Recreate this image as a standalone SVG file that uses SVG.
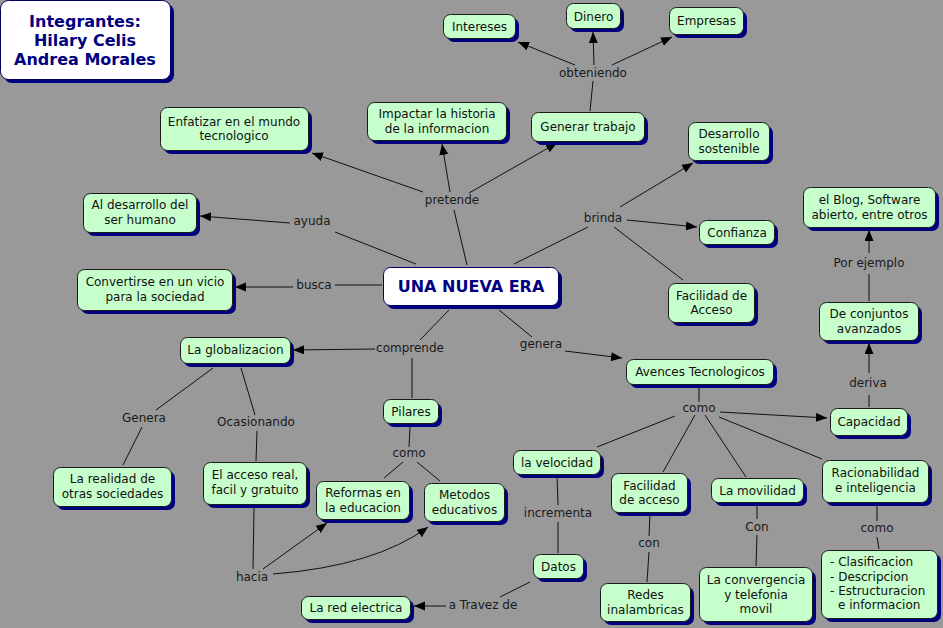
<svg xmlns="http://www.w3.org/2000/svg" width="943" height="628" viewBox="0 0 943 628">
<style>
.bg{fill:#999999}
.sh{fill:#000080}
.nd{fill:#c6ffcb;stroke:#1a1a1a;stroke-width:1}
.mn{fill:#ffffff;stroke:#000066;stroke-width:1}
text{font-family:"DejaVu Sans","Verdana",sans-serif;font-size:12px;fill:#111;text-anchor:middle}
.lk{fill:#1a1a1a}
.tt{font-weight:bold;font-size:16px;fill:#000080}
.lt{text-anchor:start}
#conn line,#conn path{stroke:#111;stroke-width:1;fill:none}
</style>
<defs>
<marker id="a" markerUnits="userSpaceOnUse" markerWidth="12" markerHeight="10" refX="11" refY="4.5" orient="auto">
<path d="M0,0 L11,4.5 L0,9 z" fill="#000"/>
</marker>
</defs>
<rect class="bg" x="0" y="0" width="943" height="628"/>

<g id="conn">
<line x1="467" y1="265" x2="454" y2="210"/>
<line x1="423" y1="192" x2="312" y2="153" marker-end="url(#a)"/>
<line x1="450" y1="192" x2="442" y2="144" marker-end="url(#a)"/>
<line x1="469" y1="193" x2="557" y2="143" marker-end="url(#a)"/>
<line x1="590" y1="111" x2="593" y2="81"/>
<line x1="575" y1="65" x2="518" y2="42" marker-end="url(#a)"/>
<line x1="594" y1="65" x2="593" y2="32" marker-end="url(#a)"/>
<line x1="612" y1="65" x2="672" y2="37" marker-end="url(#a)"/>
<line x1="416" y1="264" x2="335" y2="232"/>
<line x1="290" y1="223" x2="200" y2="216" marker-end="url(#a)"/>
<line x1="382" y1="285" x2="335" y2="285"/>
<line x1="293" y1="287" x2="235" y2="287" marker-end="url(#a)"/>
<line x1="514" y1="264" x2="588" y2="227"/>
<line x1="620" y1="207" x2="693" y2="163" marker-end="url(#a)"/>
<line x1="627" y1="220" x2="697" y2="227" marker-end="url(#a)"/>
<line x1="614" y1="227" x2="683" y2="280"/>
<line x1="449" y1="310" x2="420" y2="340"/>
<line x1="375" y1="349" x2="293" y2="350" marker-end="url(#a)"/>
<line x1="412" y1="358" x2="412" y2="398"/>
<line x1="410" y1="427" x2="409" y2="447"/>
<line x1="403" y1="462" x2="384" y2="478"/>
<line x1="417" y1="462" x2="440" y2="481"/>
<line x1="213" y1="368" x2="156" y2="410"/>
<line x1="142" y1="427" x2="123" y2="465"/>
<line x1="241" y1="368" x2="255" y2="415"/>
<line x1="257" y1="431" x2="256" y2="461"/>
<line x1="254" y1="508" x2="253" y2="569"/>
<line x1="263" y1="569" x2="327" y2="523" marker-end="url(#a)"/>
<path d="M273,574 Q375,566 428,527" marker-end="url(#a)"/>
<line x1="499" y1="310" x2="532" y2="337"/>
<line x1="565" y1="351" x2="622" y2="358" marker-end="url(#a)"/>
<line x1="699" y1="385" x2="699" y2="402"/>
<line x1="720" y1="412" x2="827" y2="418" marker-end="url(#a)"/>
<line x1="675" y1="416" x2="597" y2="447"/>
<line x1="695" y1="415" x2="663" y2="472"/>
<line x1="705" y1="415" x2="746" y2="477"/>
<line x1="719" y1="417" x2="822" y2="459"/>
<line x1="869" y1="407" x2="869" y2="395"/>
<line x1="869" y1="373" x2="869" y2="343" marker-end="url(#a)"/>
<line x1="869" y1="301" x2="869" y2="274"/>
<line x1="869" y1="253" x2="869" y2="230" marker-end="url(#a)"/>
<line x1="650" y1="513" x2="649" y2="536"/>
<line x1="649" y1="552" x2="647" y2="582"/>
<line x1="757" y1="503" x2="757" y2="519"/>
<line x1="757" y1="535" x2="756" y2="566"/>
<line x1="877" y1="503" x2="877" y2="521"/>
<line x1="877" y1="537" x2="879" y2="549"/>
<line x1="557" y1="475" x2="558" y2="505"/>
<line x1="558" y1="522" x2="558" y2="553"/>
<line x1="530" y1="582" x2="500" y2="597"/>
<line x1="446" y1="606" x2="414" y2="606" marker-end="url(#a)"/>
</g>

<g id="title">
<rect class="sh" x="4" y="4" width="170" height="79" rx="8"/>
<rect class="mn" x="0.5" y="0.5" width="170" height="79" rx="8"/>
<text class="tt" x="85" y="27">Integrantes:</text>
<text class="tt" x="85" y="46">Hilary Celis</text>
<text class="tt" x="85" y="65">Andrea Morales</text>
</g>

<g id="main">
<rect class="sh" x="387" y="271" width="175" height="38" rx="7"/>
<rect class="mn" x="383.5" y="267.5" width="175" height="38" rx="7"/>
<text class="tt" x="471" y="292">UNA NUEVA ERA</text>
</g>

<g id="enfatizar">
<rect class="sh" x="164" y="111" width="148" height="43" rx="7"/>
<rect class="nd" x="160.5" y="107.5" width="148" height="43" rx="7"/>
<text x="234" y="125.5">Enfatizar en el mundo</text>
<text x="234" y="140">tecnologico</text>
</g>

<g id="impactar">
<rect class="sh" x="371" y="106" width="139" height="38" rx="7"/>
<rect class="nd" x="367.5" y="102.5" width="139" height="38" rx="7"/>
<text x="437" y="118">Impactar la historia</text>
<text x="437" y="132.5">de la informacion</text>
</g>

<g id="generar">
<rect class="sh" x="535" y="116" width="113" height="29" rx="7"/>
<rect class="nd" x="531.5" y="112.5" width="113" height="29" rx="7"/>
<text x="588" y="130.5">Generar trabajo</text>
</g>

<g id="intereses">
<rect class="sh" x="447" y="18" width="72" height="24" rx="7"/>
<rect class="nd" x="443.5" y="14.5" width="72" height="24" rx="7"/>
<text x="479.5" y="31">Intereses</text>
</g>

<g id="dinero">
<rect class="sh" x="570" y="7" width="54" height="25" rx="7"/>
<rect class="nd" x="566.5" y="3.5" width="54" height="25" rx="7"/>
<text x="593.5" y="20.5">Dinero</text>
</g>

<g id="empresas">
<rect class="sh" x="673" y="11" width="74" height="27" rx="7"/>
<rect class="nd" x="669.5" y="7.5" width="74" height="27" rx="7"/>
<text x="706.5" y="24.5">Empresas</text>
</g>

<g id="sostenible">
<rect class="sh" x="692" y="126" width="81" height="38" rx="7"/>
<rect class="nd" x="688.5" y="122.5" width="81" height="38" rx="7"/>
<text x="729" y="138">Desarrollo</text>
<text x="729" y="152.5">sostenible</text>
</g>

<g id="aldesarrollo">
<rect class="sh" x="87" y="197" width="113" height="39" rx="7"/>
<rect class="nd" x="83.5" y="193.5" width="113" height="39" rx="7"/>
<text x="140" y="209">Al desarrollo del</text>
<text x="140" y="223.5">ser humano</text>
</g>

<g id="convertirse">
<rect class="sh" x="81" y="273" width="155" height="41" rx="7"/>
<rect class="nd" x="77.5" y="269.5" width="155" height="41" rx="7"/>
<text x="155" y="286">Convertirse en un vicio</text>
<text x="155" y="300.5">para la sociedad</text>
</g>

<g id="globalizacion">
<rect class="sh" x="184" y="341" width="110" height="26" rx="7"/>
<rect class="nd" x="180.5" y="337.5" width="110" height="26" rx="7"/>
<text x="235.5" y="354">La globalizacion</text>
</g>

<g id="pilares">
<rect class="sh" x="387" y="403" width="55" height="24" rx="7"/>
<rect class="nd" x="383.5" y="399.5" width="55" height="24" rx="7"/>
<text x="411" y="415.5">Pilares</text>
</g>

<g id="realidad">
<rect class="sh" x="57" y="471" width="118" height="39" rx="7"/>
<rect class="nd" x="53.5" y="467.5" width="118" height="39" rx="7"/>
<text x="112.5" y="483">La realidad de</text>
<text x="112.5" y="497.5">otras sociedades</text>
</g>

<g id="acceso">
<rect class="sh" x="207" y="466" width="103" height="42" rx="7"/>
<rect class="nd" x="203.5" y="462.5" width="103" height="42" rx="7"/>
<text x="255" y="479">El acceso real,</text>
<text x="255" y="493.5">facil y gratuito</text>
</g>

<g id="reformas">
<rect class="sh" x="320" y="485" width="93" height="38" rx="7"/>
<rect class="nd" x="316.5" y="481.5" width="93" height="38" rx="7"/>
<text x="363" y="497">Reformas en</text>
<text x="363" y="511.5">la educacion</text>
</g>

<g id="metodos">
<rect class="sh" x="428" y="487" width="80" height="38" rx="7"/>
<rect class="nd" x="424.5" y="483.5" width="80" height="38" rx="7"/>
<text x="464.5" y="499">Metodos</text>
<text x="464.5" y="513.5">educativos</text>
</g>

<g id="redelectrica">
<rect class="sh" x="305" y="600" width="109" height="23" rx="7"/>
<rect class="nd" x="301.5" y="596.5" width="109" height="23" rx="7"/>
<text x="356" y="612">La red electrica</text>
</g>

<g id="velocidad">
<rect class="sh" x="517" y="454" width="87" height="24" rx="7"/>
<rect class="nd" x="513.5" y="450.5" width="87" height="24" rx="7"/>
<text x="557" y="466.5">la velocidad</text>
</g>

<g id="datos">
<rect class="sh" x="537" y="558" width="50" height="24" rx="7"/>
<rect class="nd" x="533.5" y="554.5" width="50" height="24" rx="7"/>
<text x="558.5" y="570.5">Datos</text>
</g>

<g id="facilidad2">
<rect class="sh" x="615" y="477" width="76" height="39" rx="7"/>
<rect class="nd" x="611.5" y="473.5" width="76" height="39" rx="7"/>
<text x="649.5" y="489.5">Facilidad</text>
<text x="649.5" y="504">de acceso</text>
</g>

<g id="redes">
<rect class="sh" x="604" y="587" width="90" height="38" rx="7"/>
<rect class="nd" x="600.5" y="583.5" width="90" height="38" rx="7"/>
<text x="645.5" y="599">Redes</text>
<text x="645.5" y="613.5">inalambricas</text>
</g>

<g id="movilidad">
<rect class="sh" x="715" y="482" width="92" height="24" rx="7"/>
<rect class="nd" x="711.5" y="478.5" width="92" height="24" rx="7"/>
<text x="757.5" y="494.5">La movilidad</text>
</g>

<g id="convergencia">
<rect class="sh" x="703" y="571" width="113" height="54" rx="7"/>
<rect class="nd" x="699.5" y="567.5" width="113" height="54" rx="7"/>
<text x="756" y="584">La convergencia</text>
<text x="756" y="598.5">y telefonia</text>
<text x="756" y="613">movil</text>
</g>

<g id="racionabilidad">
<rect class="sh" x="826" y="464" width="106" height="42" rx="7"/>
<rect class="nd" x="822.5" y="460.5" width="106" height="42" rx="7"/>
<text x="875.5" y="477">Racionabilidad</text>
<text x="875.5" y="491.5">e inteligencia</text>
</g>

<g id="clasificacion">
<rect class="sh" x="825" y="554" width="116" height="68" rx="7"/>
<rect class="nd" x="821.5" y="550.5" width="116" height="68" rx="7"/>
<text class="lt" x="830" y="566">- Clasificacion</text>
<text class="lt" x="830" y="580.5">- Descripcion</text>
<text class="lt" x="830" y="595">- Estructuracion</text>
<text class="lt" x="838" y="609">e informacion</text>
</g>

<g id="capacidad">
<rect class="sh" x="834" y="412" width="77" height="27" rx="7"/>
<rect class="nd" x="830.5" y="408.5" width="77" height="27" rx="7"/>
<text x="869" y="426">Capacidad</text>
</g>

<g id="avences">
<rect class="sh" x="630" y="363" width="147" height="25" rx="7"/>
<rect class="nd" x="626.5" y="359.5" width="147" height="25" rx="7"/>
<text x="700" y="376">Avences Tecnologicos</text>
</g>

<g id="conjuntos">
<rect class="sh" x="823" y="306" width="99" height="38" rx="7"/>
<rect class="nd" x="819.5" y="302.5" width="99" height="38" rx="7"/>
<text x="869" y="318">De conjuntos</text>
<text x="869" y="332.5">avanzados</text>
</g>

<g id="facilidad1">
<rect class="sh" x="672" y="287" width="86" height="39" rx="7"/>
<rect class="nd" x="668.5" y="283.5" width="86" height="39" rx="7"/>
<text x="711.5" y="299.5">Facilidad de</text>
<text x="711.5" y="314">Acceso</text>
</g>

<g id="confianza">
<rect class="sh" x="703" y="224" width="75" height="24" rx="7"/>
<rect class="nd" x="699.5" y="220.5" width="75" height="24" rx="7"/>
<text x="737" y="236.5">Confianza</text>
</g>

<g id="blog">
<rect class="sh" x="807" y="191" width="132" height="40" rx="7"/>
<rect class="nd" x="803.5" y="187.5" width="132" height="40" rx="7"/>
<text x="869.5" y="204">el Blog, Software</text>
<text x="869.5" y="218.5">abierto, entre otros</text>
</g>

<g id="links">
<text class="lk" x="593" y="76.5">obteniendo</text>
<text class="lk" x="452" y="204">pretende</text>
<text class="lk" x="312" y="225">ayuda</text>
<text class="lk" x="314" y="289">busca</text>
<text class="lk" x="603" y="222">brinda</text>
<text class="lk" x="410" y="352">comprende</text>
<text class="lk" x="541" y="348">genera</text>
<text class="lk" x="144" y="421.5">Genera</text>
<text class="lk" x="256" y="426">Ocasionando</text>
<text class="lk" x="252" y="581">hacia</text>
<text class="lk" x="409" y="457">como</text>
<text class="lk" x="558" y="517">incrementa</text>
<text class="lk" x="483" y="608.5">a Travez de</text>
<text class="lk" x="699" y="411.5">como</text>
<text class="lk" x="649" y="547">con</text>
<text class="lk" x="757" y="531">Con</text>
<text class="lk" x="877" y="532">como</text>
<text class="lk" x="869" y="267">Por ejemplo</text>
<text class="lk" x="868" y="387">deriva</text>
</g>
</svg>
